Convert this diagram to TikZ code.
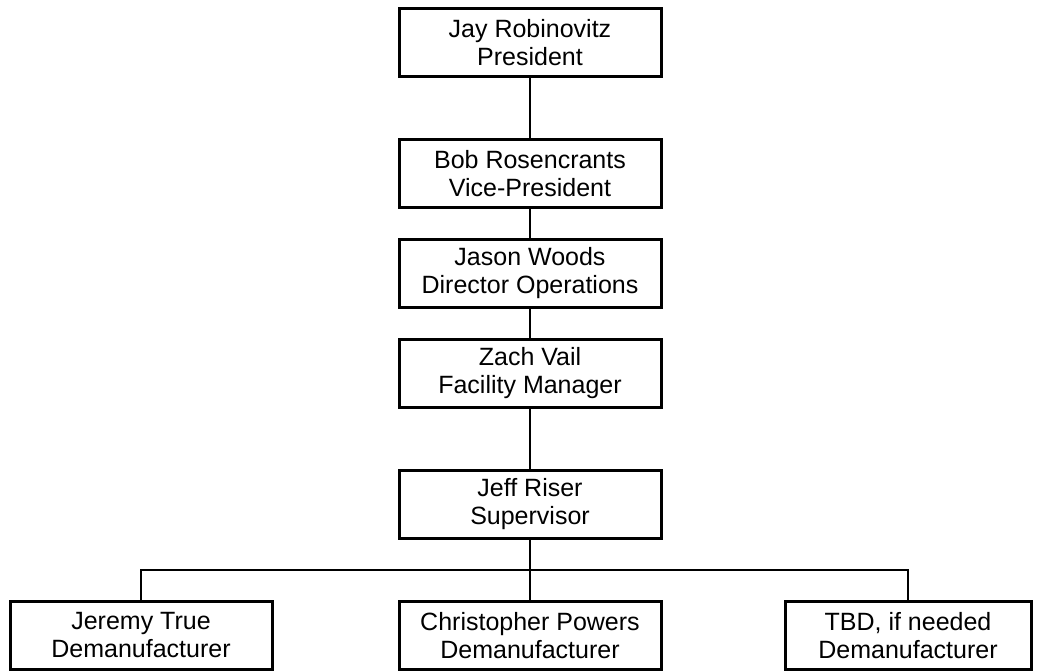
\documentclass[tikz,border=0pt]{standalone}
\usepackage{fontspec}
\setmainfont{Liberation Sans}
\usetikzlibrary{positioning,calc}

\begin{document}
\begin{tikzpicture}[x=1pt,y=1pt,line width=2pt,node distance=60pt]
  \tikzstyle{post}=[draw,line width=3pt,minimum width=262pt,minimum height=68pt,
                    inner sep=2pt,align=center,font=\fontsize{25}{28}\selectfont]
  \useasboundingbox (0,0) rectangle (1037,-671);

  \node[post] (pres)                    at (530,-42.5) {Jay Robinovitz\\President};
  \node[post] (vice) [below=of pres]    {Bob Rosencrants\\Vice-President};
  \node[post] (dir)  [below=29pt of vice] {Jason Woods\\Director Operations};
  \node[post] (fac)  [below=29pt of dir]  {Zach Vail\\Facility Manager};
  \node[post] (sup)  [below=of fac]     {Jeff Riser\\Supervisor};
  \node[post] (chr)  [below=of sup]     {Christopher Powers\\Demanufacturer};
  \node[post] (jer)  [left=124pt of chr]  {Jeremy True\\Demanufacturer};
  \node[post,minimum width=246pt] (tbd) [right=121pt of chr] {TBD, if needed\\Demanufacturer};

  \draw (pres) -- (vice);
  \draw (vice) -- (dir);
  \draw (dir) -- (fac);
  \draw (fac) -- (sup);
  \draw (sup) -- (chr);
  \coordinate (bus) at ($(sup.south)!0.5!(chr.north)$);
  \draw (jer.north) |- (bus) -| (tbd.north);
\end{tikzpicture}
\end{document}
